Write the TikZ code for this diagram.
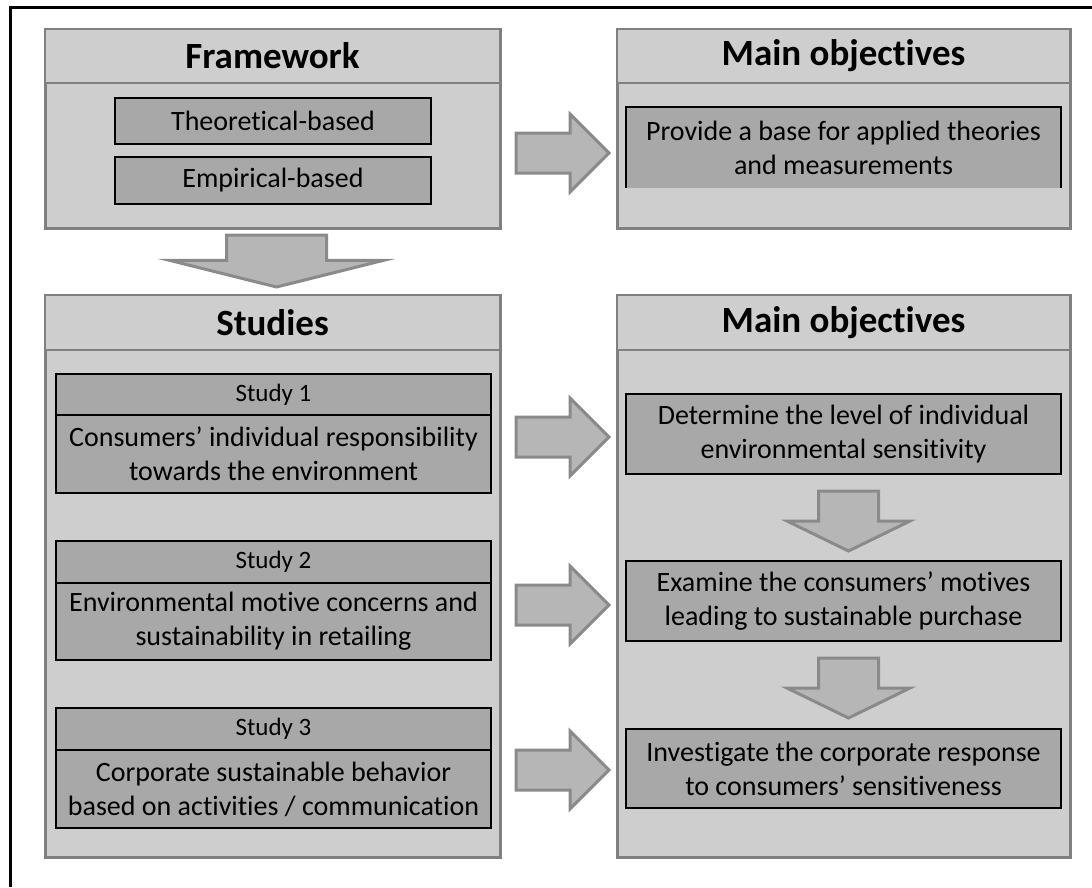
\documentclass[tikz,border=0pt]{standalone}
\usepackage{fontspec}
\setmainfont[Ligatures={NoCommon,NoContextual},Contextuals=NoAlternate]{Carlito}
\usepackage{xcolor}
\usetikzlibrary{shapes.arrows,positioning}

\definecolor{panelfill}{RGB}{206,206,206}
\definecolor{panelline}{RGB}{128,128,128}
\definecolor{boxfill}{RGB}{168,168,168}
\definecolor{arrowfill}{RGB}{182,182,182}
\definecolor{arrowline}{RGB}{138,138,138}

\tikzset{
  panel/.style={draw=panelline, line width=3pt, fill=panelfill, anchor=north west,
    inner sep=0pt, outer sep=0pt, minimum width=453pt},
  paneltitle/.style={panel, line width=2pt, minimum height=54pt,
    font=\bfseries\fontsize{37}{40}\selectfont},
  itembox/.style={draw=black, line width=2pt, fill=boxfill, anchor=north west,
    align=center, inner sep=0pt, outer sep=0pt,
    font=\fontsize{28}{34}\selectfont},
  studylabel/.style={itembox, minimum width=435pt, minimum height=41pt,
    font=\fontsize{25}{28}\selectfont},
  studybody/.style={itembox, minimum width=435pt, minimum height=78pt},
  rarrow/.style={single arrow, draw=arrowline, line width=3pt, fill=arrowfill,
    anchor=tail, inner xsep=0pt, inner ysep=18.5pt, outer sep=0pt,
    minimum height=93pt, single arrow head extend=19pt,
    single arrow tip angle=90},
  darrow/.style={rarrow, rotate=-90, inner ysep=28.5pt, minimum height=60pt,
    single arrow head extend=31.5pt, single arrow tip angle=128},
}

\begin{document}
\begin{tikzpicture}[x=1pt,y=-1pt]
    \useasboundingbox (0,0) rectangle (1092,887);
    \draw[line width=3pt] (10,887) -- (10,7) -- (1092,7);

    % framework
    \node[panel, minimum width=455pt, minimum height=199pt] (fw) at (45,29) {};
    \node[paneltitle, minimum width=455pt] (fwhead) at (45,29) {Framework};
    \node[itembox, minimum width=316pt, minimum height=46pt] (theo) at (115,98) {Theoretical-based};
    \node[itembox, minimum width=316pt, minimum height=47pt] (emp) at (115,157) {Empirical-based};

    \node[panel, minimum height=199pt] (obj) at (617,29) {};
    \node[paneltitle] (objhead) at (617,29) {Main objectives};
    \node[itembox, draw=none, minimum width=435pt, minimum height=81pt] (base) at (626,107)
      {Provide a base for applied theories\\and measurements};
    \draw[black, line width=2pt] (base.south west) -- (base.north west)
      -- (base.north east) -- (base.south east);

    \node[rarrow] (a0) at (516,153) {};
    \node[darrow, inner ysep=48.5pt, minimum height=52pt,
      single arrow head extend=56.5pt, single arrow tip angle=152] (d0) at (276.5,235) {};

    % studies
    \node[panel, minimum width=455pt, minimum height=562pt] (st) at (45,295) {};
    \node[paneltitle, minimum width=455pt, minimum height=55pt] (sthead) at (45,295) {Studies};
    \node[studylabel] (s1) at (56,374) {Study 1};
    \node[studybody, below=0pt of s1] (s1b) {Consumers’ individual responsibility\\towards the environment};
    \node[studylabel, minimum height=42pt] (s2) at (56,541) {Study 2};
    \node[studybody, minimum height=77pt, below=0pt of s2] (s2b) {Environmental motive concerns and\\sustainability in retailing};
    \node[studylabel, minimum height=42pt] (s3) at (56,708) {Study 3};
    \node[studybody, below=0pt of s3] (s3b) {Corporate sustainable behavior\\based on activities / communication};

    \node[panel, minimum height=562pt] (ob) at (617,295) {};
    \node[paneltitle, minimum height=55pt] (obhead) at (617,295) {Main objectives};
    \node[itembox, minimum width=435pt, minimum height=80pt] (o1) at (626,394)
      {Determine the level of individual\\environmental sensitivity};
    \node[itembox, minimum width=435pt, minimum height=80pt] (o2) at (626,561)
      {Examine the consumers’ motives\\leading to sustainable purchase};
    \node[itembox, minimum width=435pt, minimum height=79pt] (o3) at (626,729)
      {Investigate the corporate response\\to consumers’ sensitiveness};

    \node[rarrow] (a1) at (516,437) {};
    \node[rarrow] (a2) at (516,605) {};
    \node[rarrow] (a3) at (516,770) {};
    \node[darrow] (d1) at (848.5,491) {};
    \node[darrow] (d2) at (848.5,658) {};
\end{tikzpicture}
\end{document}
